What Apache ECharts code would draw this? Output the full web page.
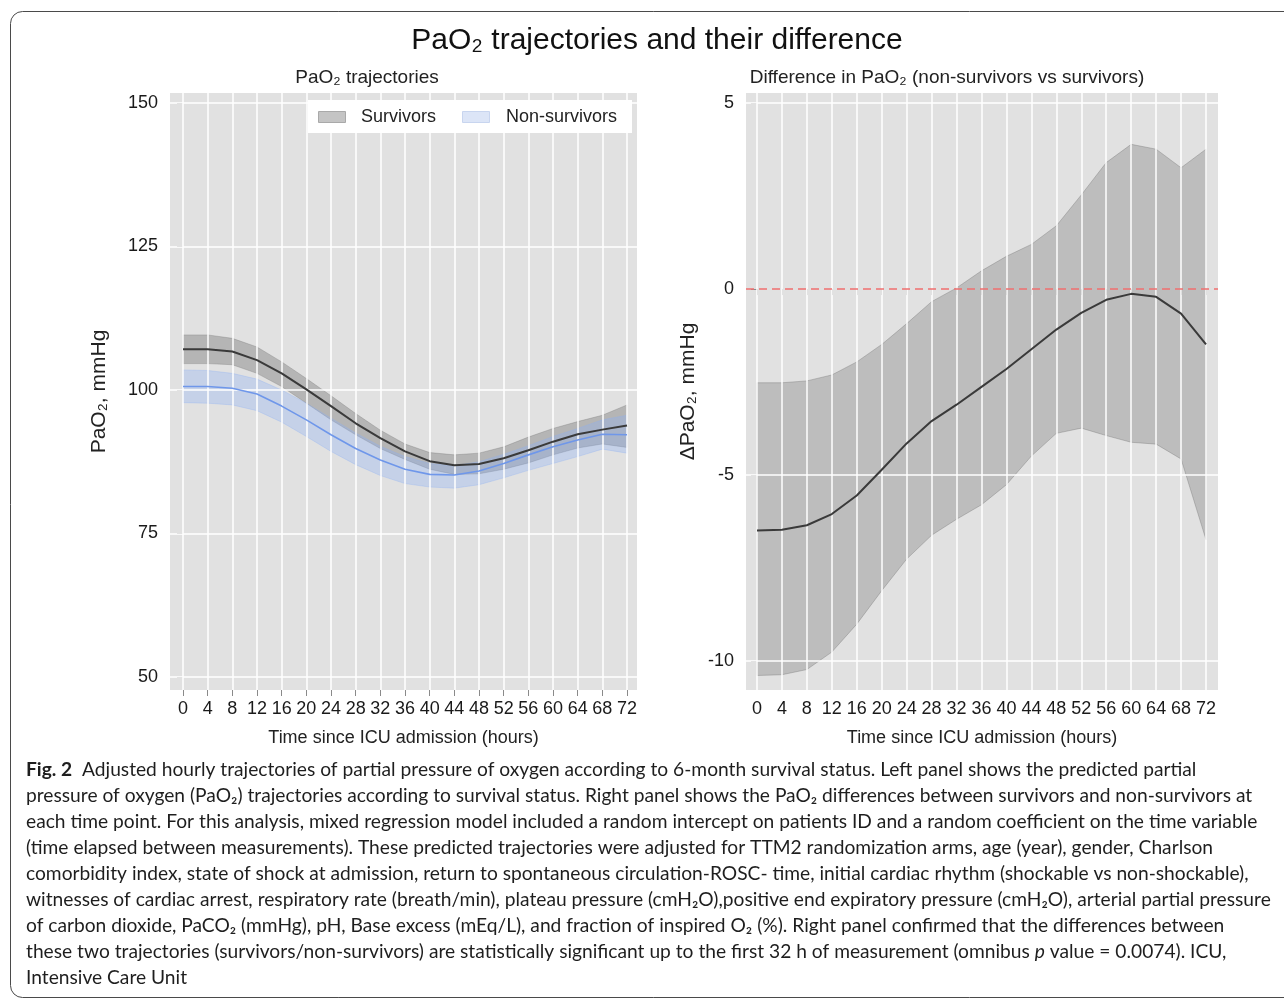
<!DOCTYPE html>
<html>
<head>
<meta charset="utf-8">
<script src="https://cdn.jsdelivr.net/npm/echarts@6/dist/echarts.min.js"></script>
<style>
  html, body { margin: 0; padding: 0; background: #fff; }
  #chart { width: 1284px; height: 1000px; }
</style>
</head>
<body>
<div id="chart"></div>
<script>
// Hours since ICU admission (model time points, also the x tick labels)
const hours = [0, 4, 8, 12, 16, 20, 24, 28, 32, 36, 40, 44, 48, 52, 56, 60, 64, 68, 72];

// Left panel: adjusted PaO2 (mmHg) with 95% CI, survivors
const survMean = [107.1, 107.1, 106.7, 105.2, 102.9, 100.1, 97.2, 94.2, 91.6, 89.3, 87.6, 86.9, 87.1, 88.1, 89.5, 91.0, 92.3, 93.1, 93.8];
const survHigh = [109.6, 109.6, 109.0, 107.5, 104.9, 102.0, 99.0, 95.9, 93.0, 90.6, 89.1, 88.7, 89.0, 90.1, 91.8, 93.3, 94.5, 95.6, 97.4];
const survLow  = [104.6, 104.6, 104.4, 102.9, 100.6, 97.7, 94.8, 92.2, 89.8, 87.9, 86.2, 85.3, 85.4, 86.2, 87.3, 88.7, 89.9, 90.6, 90.0];

// Left panel: non-survivors
const nonMean = [100.6, 100.6, 100.3, 99.3, 97.2, 94.8, 92.2, 89.8, 87.8, 86.2, 85.3, 85.2, 85.9, 87.2, 88.7, 90.1, 91.3, 92.3, 92.2];
const nonHigh = [103.5, 103.4, 102.9, 101.9, 100.0, 97.7, 95.1, 92.5, 90.2, 88.4, 87.2, 86.8, 87.5, 88.8, 90.3, 91.9, 93.3, 94.8, 95.6];
const nonLow  = [97.8, 97.7, 97.4, 96.4, 94.4, 91.9, 89.3, 87.0, 85.1, 83.7, 83.1, 82.9, 83.5, 84.7, 86.0, 87.2, 88.4, 89.7, 89.0];

// Right panel: difference (non-survivors vs survivors) with 95% CI
const diffMean = [-6.49, -6.47, -6.35, -6.05, -5.55, -4.86, -4.15, -3.55, -3.11, -2.63, -2.15, -1.62, -1.09, -0.64, -0.29, -0.13, -0.21, -0.66, -1.49];
const diffHigh = [-2.52, -2.52, -2.47, -2.31, -1.96, -1.49, -0.93, -0.34, 0.03, 0.49, 0.88, 1.20, 1.70, 2.53, 3.40, 3.89, 3.76, 3.26, 3.76];
const diffLow  = [-10.39, -10.37, -10.23, -9.76, -9.01, -8.11, -7.26, -6.62, -6.19, -5.80, -5.26, -4.49, -3.88, -3.74, -3.94, -4.12, -4.17, -4.57, -6.74];

// Y tick labels
const leftTicks = [50, 75, 100, 125, 150];
const rightTicks = [-10, -5, 0, 5];
const refValue = 0;

// Legend entries
const legendNames = ['Survivors', 'Non-survivors'];

const FONT = '"Liberation Sans", Arial, sans-serif';
const CAP_FONT = 'Lato, "Open Sans", sans-serif';
const PANEL_BG = '#e1e1e1';

const pairs = (vals) => hours.map((h, i) => [h, vals[i]]);

// Confidence band: one polygon through the lower bounds and back along the upper bounds
function band(name, lo, hi, axis, fill, edge, z) {
  return {
    name: name, type: 'custom', xAxisIndex: axis, yAxisIndex: axis,
    data: hours.map((h, i) => [h, lo[i], hi[i]]),
    encode: { x: 0, y: [1, 2] },
    silent: true, z: z, animation: false, itemStyle: { color: fill },
    renderItem: function (params, api) {
      if (params.dataIndex !== 0) return null;
      const pts = [];
      for (let i = 0; i < hours.length; i++) pts.push(api.coord([hours[i], lo[i]]));
      for (let i = hours.length - 1; i >= 0; i--) pts.push(api.coord([hours[i], hi[i]]));
      return {
        type: 'polygon',
        shape: { points: pts },
        style: { fill: fill, stroke: edge, lineWidth: 1 }
      };
    }
  };
}

function meanLine(name, vals, axis, color, width, z) {
  return {
    name: name, type: 'line', xAxisIndex: axis, yAxisIndex: axis,
    data: pairs(vals), symbol: 'none', lineStyle: { color: color, width: width },
    silent: true, z: z, animation: false
  };
}

// White panel grid lines, drawn under the data
function gridLines(axis, yVals) {
  return {
    type: 'line', xAxisIndex: axis, yAxisIndex: axis, data: [], silent: true, z: 1,
    animation: false,
    markLine: {
      silent: true, symbol: ['none', 'none'], animation: false,
      label: { show: false },
      lineStyle: { color: '#ffffff', width: 1.5, type: 'solid' },
      data: hours.map(h => ({ xAxis: h })).concat(yVals.map(v => ({ yAxis: v })))
    }
  };
}

function xAxisDef(grid, min, max) {
  return {
    type: 'value', gridIndex: grid, min: min, max: max,
    axisLine: { show: false },
    axisTick: { show: true, length: 6, customValues: hours, lineStyle: { color: '#8a8a8a' } },
    axisLabel: { customValues: hours, fontSize: 18, color: '#1a1a1a', fontFamily: FONT, margin: 10 },
    splitLine: { show: false },
    name: 'Time since ICU admission (hours)', nameLocation: 'middle', nameGap: 39,
    nameTextStyle: { fontSize: 18, color: '#222', fontFamily: FONT }
  };
}

function yAxisDef(grid, min, max, ticks, name, gap) {
  return {
    type: 'value', gridIndex: grid, min: min, max: max,
    axisLine: { show: false },
    axisTick: { show: true, length: 6, customValues: ticks, lineStyle: { color: '#8a8a8a' } },
    axisLabel: { customValues: ticks, fontSize: 18, color: '#1a1a1a', fontFamily: FONT, margin: 12 },
    splitLine: { show: false },
    name: name, nameLocation: 'middle', nameGap: gap,
    nameTextStyle: { fontSize: 21, color: '#222', fontFamily: FONT }
  };
}

const captionLines = [
  '{b|Fig. 2}  Adjusted hourly trajectories of partial pressure of oxygen according to 6-month survival status. Left panel shows the predicted partial',
  'pressure of oxygen (PaO₂) trajectories according to survival status. Right panel shows the PaO₂ differences between survivors and non-survivors at',
  'each time point. For this analysis, mixed regression model included a random intercept on patients ID and a random coefficient on the time variable',
  '(time elapsed between measurements). These predicted trajectories were adjusted for TTM2 randomization arms, age (year), gender, Charlson',
  'comorbidity index, state of shock at admission, return to spontaneous circulation-ROSC- time, initial cardiac rhythm (shockable vs non-shockable),',
  'witnesses of cardiac arrest, respiratory rate (breath/min), plateau pressure (cmH₂O),positive end expiratory pressure (cmH₂O), arterial partial pressure',
  'of carbon dioxide, PaCO₂ (mmHg), pH, Base excess (mEq/L), and fraction of inspired O₂ (%). Right panel confirmed that the differences between',
  'these two trajectories (survivors/non-survivors) are statistically significant up to the first 32 h of measurement (omnibus {i|p} value = 0.0074). ICU,',
  'Intensive Care Unit'
];

const chart = echarts.init(document.getElementById('chart'), null, { renderer: 'canvas' });

const CAP_SIZE = 19.2;

// Legend box for the left panel
const legendGraphic = [
  { type: 'rect', shape: { x: 308, y: 100, width: 324, height: 33 }, style: { fill: '#ffffff' }, z: 20, silent: true },
  { type: 'rect', shape: { x: 318.5, y: 111.5, width: 27, height: 11 }, style: { fill: '#c4c4c4', stroke: '#a9a9a9', lineWidth: 1 }, z: 21, silent: true },
  { type: 'text', x: 361, y: 117, style: { text: legendNames[0], font: '18px ' + FONT, fill: '#222', verticalAlign: 'middle' }, z: 21, silent: true },
  { type: 'rect', shape: { x: 462.5, y: 111.5, width: 27, height: 11 }, style: { fill: '#dce5f7', stroke: '#c8d5ef', lineWidth: 1 }, z: 21, silent: true },
  { type: 'text', x: 506, y: 117, style: { text: legendNames[1], font: '18px ' + FONT, fill: '#222', verticalAlign: 'middle' }, z: 21, silent: true }
];

const graphics = [
  {
    type: 'rect', silent: true, z: -10,
    shape: { x: 10.5, y: 11.5, width: 1300, height: 986, r: 12 },
    style: { fill: 'none', stroke: '#4a4a4a', lineWidth: 1 }
  },
  {
    type: 'text', x: 657, y: 41, silent: true,
    style: { text: 'PaO₂ trajectories and their difference', font: '30px ' + FONT, fill: '#111', align: 'center', verticalAlign: 'middle' }
  },
  {
    type: 'text', x: 367, y: 78, silent: true,
    style: { text: 'PaO₂ trajectories', font: '19px ' + FONT, fill: '#222', align: 'center', verticalAlign: 'middle' }
  },
  {
    type: 'text', x: 947, y: 78, silent: true,
    style: { text: 'Difference in PaO₂ (non-survivors vs survivors)', font: '19px ' + FONT, fill: '#222', align: 'center', verticalAlign: 'middle' }
  }
].concat(legendGraphic).concat(captionLines.map((t, i) => ({
  type: 'text', x: 26, y: 770 + i * 26, silent: true,
  style: {
    text: t, fontFamily: CAP_FONT, fontSize: CAP_SIZE, fill: '#1e1e1e', align: 'left', verticalAlign: 'middle',
    rich: {
      b: { fontFamily: CAP_FONT, fontSize: CAP_SIZE, fontWeight: 'bold', fill: '#1e1e1e' },
      i: { fontFamily: CAP_FONT, fontSize: CAP_SIZE, fontStyle: 'italic', fill: '#1e1e1e' }
    }
  }
})));

const option = {
  animation: false,
  backgroundColor: '#ffffff',
  textStyle: { fontFamily: FONT },
  grid: [
    { left: 170, top: 93, width: 467, height: 597, show: true, backgroundColor: PANEL_BG, borderWidth: 0 },
    { left: 746, top: 93, width: 472, height: 597, show: true, backgroundColor: PANEL_BG, borderWidth: 0 }
  ],
  xAxis: [xAxisDef(0, -2.11, 73.62), xAxisDef(1, -1.76, 73.92)],
  yAxis: [
    yAxisDef(0, 47.74, 151.74, leftTicks, 'PaO₂, mmHg', 60),
    yAxisDef(1, -10.78, 5.27, rightTicks, 'ΔPaO₂, mmHg', 47)
  ],
  graphic: graphics,
  series: [
    gridLines(0, leftTicks),
    gridLines(1, rightTicks.filter(v => v !== refValue)),
    band(legendNames[0], survLow, survHigh, 0, 'rgba(110,110,110,0.38)', 'rgba(110,110,110,0.3)', 2),
    band(legendNames[1], nonLow, nonHigh, 0, 'rgba(140,175,245,0.33)', 'rgba(140,175,245,0.3)', 3),
    meanLine('Survivors mean', survMean, 0, '#3a3a3a', 2, 5),
    meanLine('Non-survivors mean', nonMean, 0, '#6f97ea', 1.6, 6),
    band('Difference', diffLow, diffHigh, 1, 'rgba(115,115,115,0.33)', 'rgba(110,110,110,0.35)', 2),
    meanLine('Difference mean', diffMean, 1, '#3a3a3a', 2, 5),
    {
      type: 'line', xAxisIndex: 1, yAxisIndex: 1, data: [], silent: true, z: 6, animation: false,
      markLine: {
        silent: true, symbol: ['none', 'none'], animation: false, label: { show: false },
        lineStyle: { color: '#ef6f6f', width: 1.5, type: [8, 5] },
        data: [{ yAxis: refValue }]
      }
    }
  ]
};

chart.setOption(option);
</script>
</body>
</html>
